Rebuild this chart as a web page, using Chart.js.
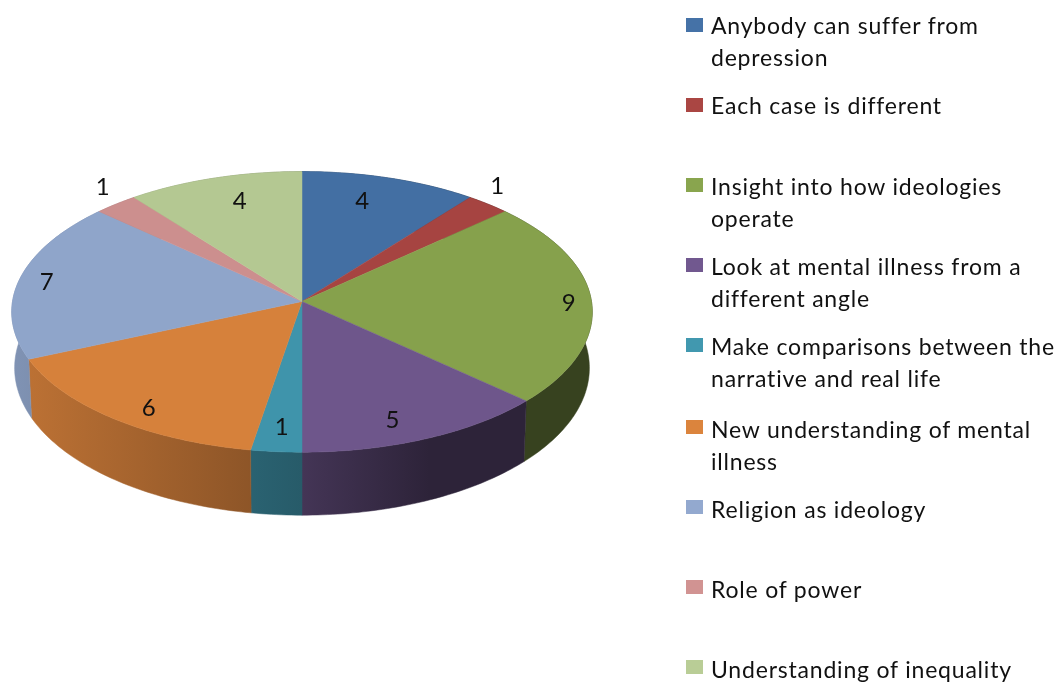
<!DOCTYPE html>
<html>
<head>
<meta charset="utf-8">
<title>Pie</title>
<script src="https://cdn.jsdelivr.net/npm/chart.js@4"></script>
<style>
  html, body { margin: 0; padding: 0; background: #fff; }
  #wrap { position: relative; width: 1063px; height: 684px; overflow: hidden; }
  #legend { position: absolute; left: 686px; top: 18px; width: 377px; font-family: Lato, sans-serif; font-size: 23px; letter-spacing: 0.8px; line-height: 32px; color: #111; }
  .item { position: absolute; left: 0; width: 377px; }
  .swatch { position: absolute; left: 0; top: 0; width: 17px; height: 14px; }
  .text { position: absolute; left: 25px; width: 350px; }
</style>
</head>
<body>
<div id="wrap">
  <canvas id="chart" width="1063" height="684"></canvas>
  <div id="legend"></div>
</div>
<script>
const categories = [
  "Anybody can suffer from depression",
  "Each case is different",
  "Insight into how ideologies operate",
  "Look at mental illness from a different angle",
  "Make comparisons between the narrative and real life",
  "New understanding of mental illness",
  "Religion as ideology",
  "Role of power",
  "Understanding of inequality",
];
const counts = [4, 1, 9, 5, 1, 6, 7, 1, 4];
const colors = ["#4572A7", "#AA4643", "#89A54E", "#71588F", "#4198AF", "#DB843D", "#93A9CF", "#D19392", "#B9CD96"];

// nudge of each number from its default spot in the slice
const labelNudges = [[-11, 0], [45, -37], [35, 2], [-8, 11], [0, 8], [-4, 14], [-29, -1], [-49, -36], [9, 0]];

// tilt of the disc: the far half looks shorter than the near half
const TILT = -0.074;
const SQUASH = 0.482;
const LABEL_RADIUS = 0.8;

function project(arc, angle, r) {
  const u = Math.cos(angle) * r;
  const v = Math.sin(angle) * r;
  const w = 1 + TILT * v;
  return {
    x: arc.x + arc.outerRadius * u / w,
    y: arc.y + arc.outerRadius * SQUASH * v / w,
    v: v,
  };
}

function rimPoints(arc) {
  const pts = [];
  const steps = Math.max(4, Math.ceil((arc.endAngle - arc.startAngle) * 60));
  for (let i = 0; i <= steps; i++) {
    pts.push(project(arc, arc.startAngle + (arc.endAngle - arc.startAngle) * i / steps, 1));
  }
  return pts;
}

function shade(hex, f) {
  const n = parseInt(hex.slice(1), 16);
  const r = Math.round((n >> 16 & 255) * f);
  const g = Math.round((n >> 8 & 255) * f);
  const b = Math.round((n & 255) * f);
  return "rgb(" + r + "," + g + "," + b + ")";
}

// side wall goes dark from left to right
function wallFill(ctx, hex) {
  const g = ctx.createLinearGradient(12, 0, 592, 0);
  g.addColorStop(0, shade(hex, 0.87));
  g.addColorStop(0.5, shade(hex, 0.6));
  g.addColorStop(0.72, shade(hex, 0.4));
  g.addColorStop(1, shade(hex, 0.4));
  return g;
}

// the library keeps the slices (angles, radius, colours), this paints them tilted
const tiltedPie = {
  id: "tiltedPie",
  beforeDatasetsDraw(chart) {
    const ctx = chart.ctx;
    const arcs = chart.getDatasetMeta(0).data;
    ctx.save();
    arcs.forEach((arc) => {
      const rim = rimPoints(arc);
      const hex = arc.options.backgroundColor;
      ctx.beginPath();
      rim.forEach((p, i) => (i ? ctx.lineTo(p.x, p.y) : ctx.moveTo(p.x, p.y)));
      rim.slice().reverse().forEach((p) => {
        ctx.lineTo(arc.x + (p.x - arc.x) * 0.99, p.y + 55.5 + 7.5 * p.v);
      });
      ctx.closePath();
      const fill = wallFill(ctx, hex);
      ctx.fillStyle = fill;
      ctx.strokeStyle = fill;
      ctx.lineWidth = 0.5;
      ctx.fill();
      ctx.stroke();
    });
    arcs.forEach((arc) => {
      const rim = rimPoints(arc);
      const top = shade(arc.options.backgroundColor, 0.975);
      ctx.beginPath();
      ctx.moveTo(arc.x, arc.y);
      rim.forEach((p) => ctx.lineTo(p.x, p.y));
      ctx.closePath();
      ctx.fillStyle = top;
      ctx.strokeStyle = top;
      ctx.lineWidth = 0.5;
      ctx.fill();
      ctx.stroke();
    });
    ctx.restore();
    return false;
  },
  afterDraw(chart) {
    const ctx = chart.ctx;
    ctx.save();
    ctx.font = "24px Lato, sans-serif";
    ctx.fillStyle = "#111";
    ctx.textAlign = "center";
    ctx.textBaseline = "middle";
    chart.getDatasetMeta(0).data.forEach((arc, i) => {
      const p = project(arc, (arc.startAngle + arc.endAngle) / 2, LABEL_RADIUS);
      ctx.fillText(String(counts[i]), p.x + labelNudges[i][0], p.y + labelNudges[i][1]);
    });
    ctx.restore();
  },
};

new Chart(document.getElementById("chart").getContext("2d"), {
  type: "pie",
  data: {
    labels: categories,
    datasets: [{ data: counts, backgroundColor: colors, borderWidth: 0 }],
  },
  options: {
    responsive: false,
    animation: false,
    layout: { padding: { left: 12.5, right: 471.5, top: 12, bottom: 93 } },
    plugins: { legend: { display: false }, tooltip: { enabled: false } },
  },
  plugins: [tiltedPie],
});

const legend = document.getElementById("legend");
categories.forEach((name, i) => {
  const item = document.createElement("div");
  item.className = "item";
  // the lower four entries sit 2px further down in the original
  item.style.top = 80 * i + (i > 4 ? 2 : 0) + "px";
  const swatch = document.createElement("div");
  swatch.className = "swatch";
  swatch.style.background = colors[i];
  const text = document.createElement("div");
  text.className = "text";
  // text drifts slightly against its swatch going down the list
  text.style.top = -9 + Math.round(i * 0.3) + "px";
  text.textContent = name;
  item.appendChild(swatch);
  item.appendChild(text);
  legend.appendChild(item);
});
</script>
</body>
</html>
